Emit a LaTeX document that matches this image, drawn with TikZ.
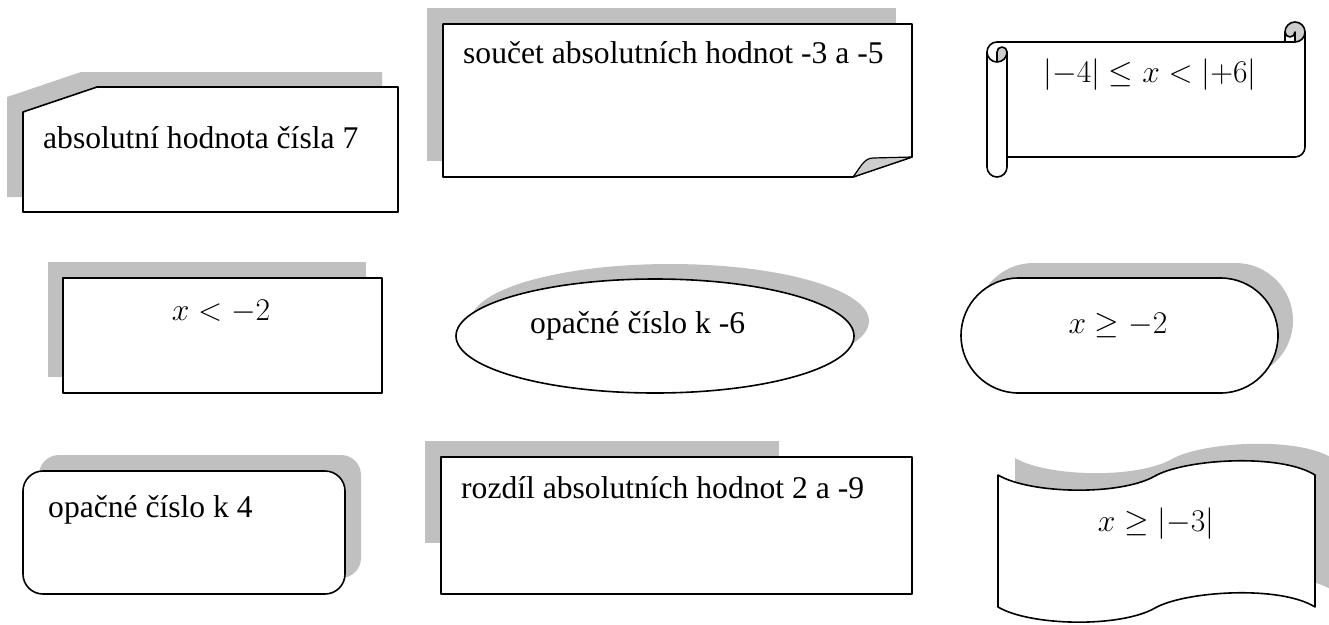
\RequirePackage{fix-cm}
\documentclass[tikz,border=0pt]{standalone}
\usepackage{amsmath}
\usepackage{fontspec}
\setmainfont{Liberation Serif}
\definecolor{shadowgray}{RGB}{192,192,192}
\definecolor{curlgray}{RGB}{205,205,205}
\tikzset{
  shade/.style={fill=shadowgray, draw=none},
  outline/.style={draw=black, line width=1.6pt, fill=white, line join=round},
  thinline/.style={draw=black, line width=1.6pt, line join=round, line cap=round},
  lbl/.style={inner sep=0pt, font=\fontsize{31.6}{38}\selectfont},
}
\begin{document}
\begin{tikzpicture}[x=1pt, y=1pt, yscale=-1]
\useasboundingbox (0,0) rectangle (1329,624);

% --- snipped-corner box
\fill[shade] (7,97) -- (81,72) -- (382,72) -- (382,197) -- (7,197) -- cycle;
\draw[outline] (23,112) -- (97,87) -- (398,87) -- (398,212) -- (23,212) -- cycle;
\node[lbl, anchor=base west] (t1) at (43,148) {absolutní hodnota čísla 7};

% --- folded-corner note
\fill[shade] (427,8) rectangle (896,161);
\draw[outline] (443,24) -- (912,24) -- (912,157) -- (853,177) -- (443,177) -- cycle;
\filldraw[thinline, fill=curlgray, line width=1.2pt] (853,177) .. controls (860,168) and (864,158) .. (873,158) -- (912,157) -- cycle;
\node[lbl, anchor=base west] (t2) at (463,63) {součet absolutních hodnot -3 a -5};

% --- horizontal scroll
\fill[curlgray] (997,62) arc[start angle=90, end angle=0, radius=10pt]
  arc[start angle=0, end angle=-180, radius=5pt] -- cycle;
\fill[curlgray] (1295,42) arc[start angle=90, end angle=-180, radius=10pt]
  arc[start angle=180, end angle=0, radius=5pt] -- cycle;
\draw[thinline] (987,52) arc[start angle=180, end angle=270, radius=10pt]
  -- (1285,42) -- (1285,32) arc[start angle=180, end angle=360, radius=10pt]
  -- (1305,147) arc[start angle=0, end angle=90, radius=10pt]
  -- (1007,157) -- (1007,167) arc[start angle=0, end angle=180, radius=10pt] -- cycle;
\draw[thinline] (1285,42) -- (1295,42) arc[start angle=90, end angle=0, radius=10pt];
\draw[thinline] (1295,42) -- (1295,32) arc[start angle=0, end angle=180, radius=5pt];
\draw[thinline] (997,62) -- (997,52) arc[start angle=180, end angle=360, radius=5pt]
  arc[start angle=0, end angle=180, radius=10pt];
\draw[thinline] (1007,52) -- (1007,157);
\node[lbl, anchor=base] (t3) at (1150,82) {$\lvert -4\rvert \le x < \lvert{+}6\rvert$};

% --- rectangle x < -2
\fill[shade] (48,262) rectangle (366,377);
\draw[outline] (63,278) rectangle (382,393);
\node[lbl, anchor=base] (t4) at (221,320) {$x < -2$};

% --- ellipse
\fill[shade] (670,321) ellipse[x radius=199pt, y radius=57pt];
\draw[outline] (655,336) ellipse[x radius=199pt, y radius=57pt];
\node[lbl, anchor=base west] (t5) at (530,333) {opačné číslo k -6};

% --- stadium
\fill[shade, rounded corners=57.5pt] (976,263) rectangle (1293,378);
\draw[outline, rounded corners=57.5pt] (961,278) rectangle (1278,393);
\node[lbl, anchor=base] (t6) at (1118,333) {$x \ge -2$};

% --- rounded rectangle
\fill[shade, rounded corners=20pt] (39,455) rectangle (361,578);
\draw[outline, rounded corners=20pt] (23,471) rectangle (345,594);
\node[lbl, anchor=base west] (t7) at (48,517) {opačné číslo k 4};

% --- plain rectangle
\fill[shade] (425,441) rectangle (779,543);
\draw[outline] (441,457) rectangle (912,594);
\node[lbl, anchor=base west] (t8) at (461,498) {rozdíl absolutních hodnot 2 a -9};

% --- wave banner
\fill[shade] (1015,458) .. controls (1047,477) and (1137,479) .. (1172,459)
  .. controls (1202,442) and (1297,436) .. (1332,458)
  -- (1332,590) .. controls (1297,568) and (1202,574) .. (1172,591)
  .. controls (1137,611) and (1047,609) .. (1015,590) -- cycle;
\draw[outline] (998,475) .. controls (1030,494) and (1120,496) .. (1155,476)
  .. controls (1185,459) and (1280,453) .. (1315,475)
  -- (1315,607) .. controls (1280,585) and (1185,591) .. (1155,608)
  .. controls (1120,628) and (1030,626) .. (998,607) -- cycle;
\node[lbl, anchor=base] (t9) at (1156,531) {$x \ge \lvert -3\rvert$};
\end{tikzpicture}
\end{document}
